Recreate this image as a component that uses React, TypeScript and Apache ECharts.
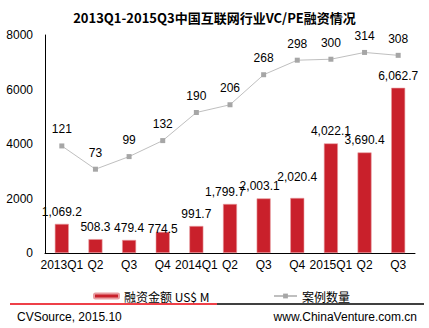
import React, { useEffect, useRef } from "react";
import * as echarts from "echarts";

const categories = ["2013Q1", "Q2", "Q3", "Q4", "2014Q1", "Q2", "Q3", "Q4", "2015Q1", "Q2", "Q3"];
const amounts = [1069.2, 508.3, 479.4, 774.5, 991.7, 1799.7, 2003.1, 2020.4, 4022.1, 3690.4, 6062.7];
const cases = [121, 73, 99, 132, 190, 206, 268, 298, 300, 314, 308];
const yTicks = [0, 2000, 4000, 6000, 8000];
// label nudges seen in the reference (index -> [dx, dy])
const amountLabelOffsets: Record<number, [number, number]> = {
  3: [0, 9],
  5: [-5, 0],
  6: [-4, 0],
  7: [0, -9],
};

const FONT = "'Liberation Sans', Arial, 'Noto Sans CJK SC', sans-serif";

export default function App() {
  const ref = useRef<HTMLDivElement>(null);
  useEffect(() => {
    if (!ref.current) return;
    const chart = echarts.init(ref.current, null, { renderer: "svg" });
    const fmt = (v: number) =>
      v.toLocaleString("en-US", { minimumFractionDigits: 1, maximumFractionDigits: 1 });
    chart.setOption({
      animation: false,
      backgroundColor: "#ffffff",
      textStyle: { fontFamily: FONT },
      title: {
        text: "2013Q1-2015Q3中国互联网行业VC/PE融资情况",
        left: "center",
        top: 6,
        textStyle: { fontSize: 13, fontWeight: "bold", color: "#000", fontFamily: "'Noto Sans CJK SC', sans-serif" },
      },
      grid: { left: 45, right: 14, top: 35, bottom: 75 },
      legend: [
        {
          data: ["融资金额 US$ M"],
          left: 88,
          top: 285,
          itemWidth: 25,
          itemHeight: 5,
          itemGap: 4,
          textStyle: { fontSize: 12, color: "#000", fontFamily: "'Noto Sans CJK SC', sans-serif" },
        },
        {
          data: ["案例数量"],
          left: 268,
          top: 285,
          itemWidth: 23,
          itemHeight: 6,
          textStyle: { fontSize: 12, color: "#000", fontFamily: "'Noto Sans CJK SC', sans-serif" },
        },
      ],
      xAxis: {
        type: "category",
        data: categories,
        axisLine: { show: true, lineStyle: { color: "#000", width: 1 } },
        axisTick: { show: false },
        axisLabel: { color: "#000", fontSize: 12, margin: 6, interval: 0, fontFamily: FONT },
      },
      yAxis: [
        {
          type: "value",
          min: 0,
          max: yTicks[yTicks.length - 1],
          interval: 2000,
          axisLine: { show: true, lineStyle: { color: "#000", width: 1 } },
          axisTick: { show: false },
          splitLine: { show: false },
          axisLabel: { color: "#000", fontSize: 12, margin: 12, fontFamily: FONT, formatter: (v: number) => String(v) },
        },
        {
          type: "value",
          min: -100,
          max: 350,
          show: false,
          splitLine: { show: false },
        },
      ],
      series: [
        {
          name: "融资金额 US$ M",
          type: "bar",
          data: amounts.map((v, i) =>
            amountLabelOffsets[i] ? { value: v, label: { offset: amountLabelOffsets[i] } } : v
          ),
          barWidth: 14,
          itemStyle: { color: "#C9202B", borderColor: "#E89CA0", borderWidth: 0.6 },
          label: {
            show: true,
            position: "top",
            distance: 6,
            color: "#000",
            fontSize: 12,
            fontFamily: FONT,
            formatter: (p: any) => fmt(p.value),
          },
        },
        {
          name: "案例数量",
          type: "line",
          yAxisIndex: 1,
          data: cases,
          symbol: "rect",
          symbolSize: 5,
          lineStyle: { color: "#BFBFBF", width: 1 },
          itemStyle: { color: "#A6A6A6" },
          label: {
            show: true,
            position: "top",
            distance: 8,
            color: "#000",
            fontSize: 12,
            fontFamily: FONT,
          },
        },
      ],
      graphic: [
        { type: "line", shape: { x1: 10, y1: 304, x2: 217, y2: 304 }, style: { stroke: "#E8000B", lineWidth: 1.5 } },
        { type: "line", shape: { x1: 217, y1: 304, x2: 424, y2: 304 }, style: { stroke: "#000", lineWidth: 1.5 } },
        {
          type: "text",
          x: 17,
          y: 317,
          style: { text: "CVSource, 2015.10", fill: "#000", font: `12px ${FONT}`, textVerticalAlign: "middle" },
        },
        {
          type: "text",
          x: 417,
          y: 317,
          style: { text: "www.ChinaVenture.com.cn", fill: "#000", font: `12px ${FONT}`, textAlign: "right", textVerticalAlign: "middle" },
        },
      ],
    });
    return () => chart.dispose();
  }, []);
  return <div ref={ref} style={{ position: "fixed", left: 0, top: 0, width: 429, height: 328 }} />;
}
